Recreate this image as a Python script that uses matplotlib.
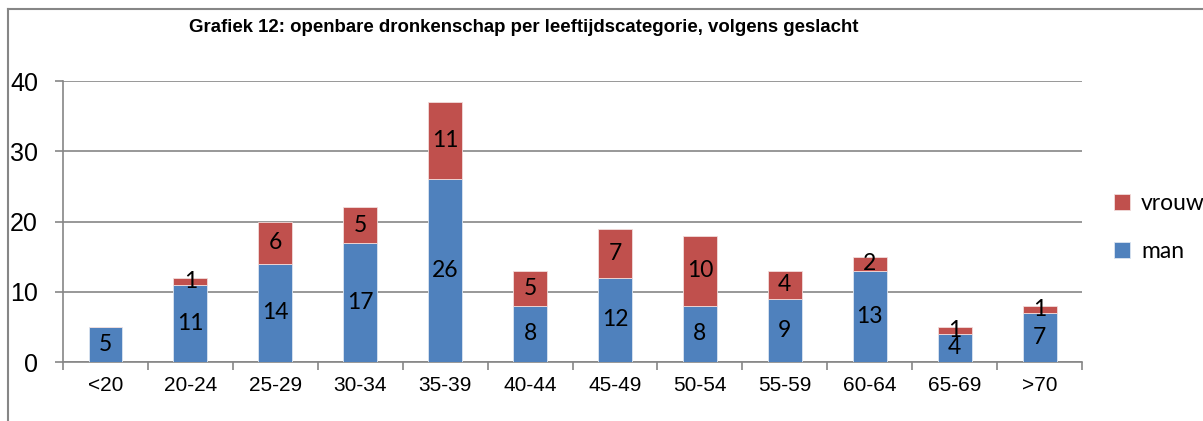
import matplotlib
matplotlib.use("Agg")
import matplotlib.pyplot as plt
import numpy as np
from matplotlib.lines import Line2D

categories = ["<20", "20-24", "25-29", "30-34", "35-39", "40-44",
              "45-49", "50-54", "55-59", "60-64", "65-69", ">70"]
man = [5, 11, 14, 17, 26, 8, 12, 8, 9, 13, 4, 7]
vrouw = [0, 1, 6, 5, 11, 5, 7, 10, 4, 2, 1, 1]

blue = "#4F81BD"
red = "#C0504D"
grid_col = "#868686"

fig = plt.figure(figsize=(12.03, 4.21), dpi=100)
ax = fig.add_axes([0.0524, 0.1401, 0.847, 0.6675])

x = np.arange(len(categories))
w = 0.4
b1 = ax.bar(x, man, w, color=blue, edgecolor="#dbe5f1", linewidth=0.6, label="man", zorder=3)
b2 = ax.bar(x, vrouw, w, bottom=man, color=red, edgecolor="#f2dcdb", linewidth=0.6, label="vrouw", zorder=3)

lblfont = dict(family=["Lato", "DejaVu Sans"], fontsize=16.5, color="black")
for i in range(len(categories)):
    ax.text(x[i], man[i] / 2, str(man[i]), ha="center", va="center", zorder=4, **lblfont)
    if vrouw[i] > 0:
        ax.text(x[i], man[i] + vrouw[i] / 2, str(vrouw[i]), ha="center", va="center", zorder=4, **lblfont)

ax.set_xlim(-0.5, len(categories) - 0.5)
ax.set_ylim(0, 40)
ax.set_yticks([0, 10, 20, 30, 40])
ax.yaxis.grid(True, color=grid_col, linewidth=1.2, zorder=0)
ax.set_axisbelow(True)

ax.set_xticks(x)
ax.set_xticklabels(categories, fontsize=15, family="Liberation Sans")
ax.set_xticks(np.arange(-0.5, len(categories)), minor=True)
ax.tick_params(axis="x", which="major", length=0, pad=10)
ax.tick_params(axis="x", which="minor", length=6, width=1.2, color=grid_col, direction="out")
ax.tick_params(axis="y", length=6, width=1.2, color=grid_col, pad=12)
for t in ax.get_yticklabels():
    t.set_fontsize(18)
    t.set_family("Liberation Sans")

for s in ["top", "right"]:
    ax.spines[s].set_visible(False)
for s in ["left", "bottom"]:
    ax.spines[s].set_color(grid_col)
    ax.spines[s].set_linewidth(1.2)

fig.text(0.435, 0.935, "Grafiek 12: openbare dronkenschap per leeftijdscategorie, volgens geslacht",
         ha="center", va="center", fontsize=13.4, fontweight="bold", family="Liberation Sans")

leg = fig.legend(handles=[b2, b1], labels=["vrouw", "man"], loc="center left",
                 bbox_to_anchor=(0.918, 0.46), frameon=False,
                 prop=dict(family="Lato", size=16.5), handlelength=0.7, handleheight=0.7,
                 handletextpad=0.5, labelspacing=1.2, borderaxespad=0)

# outer chart frame (cut off at right and bottom)
fig.add_artist(Line2D([8 / 1203, 1.01], [1 - 9 / 421, 1 - 9 / 421], transform=fig.transFigure,
                      color=grid_col, linewidth=1.5))
fig.add_artist(Line2D([8 / 1203, 8 / 1203], [1 - 9 / 421, -0.01], transform=fig.transFigure,
                      color=grid_col, linewidth=1.5))

plt.savefig("out.png", dpi=100)
